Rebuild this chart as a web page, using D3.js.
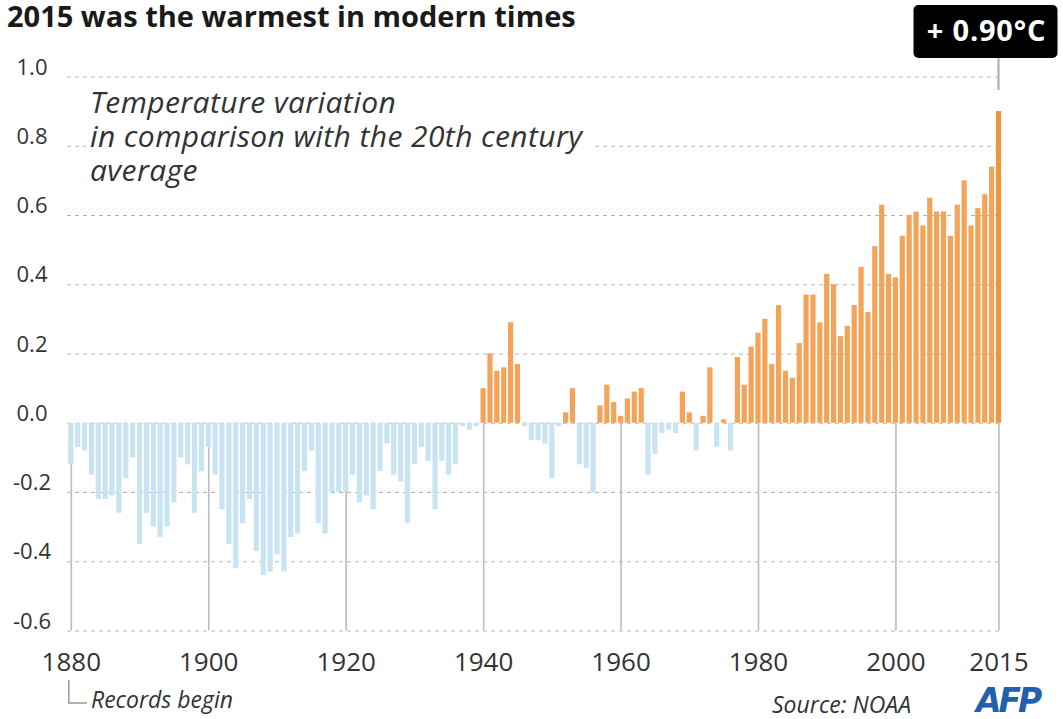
<!DOCTYPE html>
<html>
<head>
<meta charset="utf-8">
<script src="https://cdn.jsdelivr.net/npm/d3@7"></script>
<style>
  html, body { margin: 0; padding: 0; background: #fff; }
  svg { display: block; }
</style>
</head>
<body>
<svg id="chart" width="1063" height="719"></svg>
<script>
// Global land & ocean temperature anomaly vs. 20th century average (°C), NOAA
const years = d3.range(1880, 2016);
const anomalies = [
  -0.12, -0.07, -0.08, -0.15, -0.22, -0.22, -0.21, -0.26, -0.16, -0.10, // 1880s
  -0.35, -0.26, -0.30, -0.33, -0.30, -0.23, -0.10, -0.12, -0.26, -0.14, // 1890s
  -0.07, -0.15, -0.25, -0.35, -0.42, -0.29, -0.22, -0.37, -0.44, -0.43, // 1900s
  -0.38, -0.43, -0.33, -0.32, -0.14, -0.08, -0.29, -0.32, -0.20, -0.20, // 1910s
  -0.20, -0.15, -0.23, -0.21, -0.25, -0.14, -0.06, -0.15, -0.17, -0.29, // 1920s
  -0.12, -0.07, -0.11, -0.25, -0.11, -0.15, -0.12, -0.01, -0.02, -0.01, // 1930s
   0.10,  0.20,  0.15,  0.16,  0.29,  0.17, -0.01, -0.05, -0.05, -0.06, // 1940s
  -0.16, -0.01,  0.03,  0.10, -0.12, -0.13, -0.20,  0.05,  0.11,  0.06, // 1950s
   0.02,  0.07,  0.09,  0.10, -0.15, -0.09, -0.03, -0.02, -0.03,  0.09, // 1960s
   0.03, -0.08,  0.02,  0.16, -0.07,  0.01, -0.08,  0.19,  0.11,  0.22, // 1970s
   0.26,  0.30,  0.17,  0.34,  0.15,  0.13,  0.23,  0.37,  0.37,  0.29, // 1980s
   0.43,  0.40,  0.25,  0.28,  0.34,  0.45,  0.32,  0.51,  0.63,  0.43, // 1990s
   0.42,  0.54,  0.60,  0.61,  0.57,  0.65,  0.61,  0.61,  0.54,  0.63, // 2000s
   0.70,  0.57,  0.62,  0.66,  0.74,  0.90                              // 2010s
];
const yTicks = [-0.6, -0.4, -0.2, 0.0, 0.2, 0.4, 0.6, 0.8, 1.0];
const xTicks = [1880, 1900, 1920, 1940, 1960, 1980, 2000, 2015];
const titleText = "2015 was the warmest in modern times";
const noteLines = ["Temperature variation", "in comparison with the 20th century", "average"];

const data = years.map((yr, i) => ({ year: yr, value: anomalies[i] }));
const latest = data[data.length - 1];

const svg = d3.select("#chart");
const FONT = "'Open Sans', 'Noto Sans', sans-serif";

const x = d3.scaleLinear().domain([1880, 2015]).range([70.8, 998.5]);
const y = d3.scaleLinear().domain([-0.6, 1.0]).range([630.5, 76.5]);
const gridLeft = 67, gridRight = 1000;
const barW = 5.2;

// Title
svg.append("text")
  .attr("x", 7).attr("y", 27)
  .attr("font-family", FONT).attr("font-weight", 700).attr("font-size", 29)
  .attr("fill", "#1a1a1a")
  .text(titleText);

// Horizontal dashed gridlines with value labels
const yAxis = d3.axisLeft(y)
  .tickValues(yTicks)
  .tickSizeInner(-(gridRight - gridLeft))
  .tickSizeOuter(0)
  .tickFormat(d => d.toFixed(1));
const gy = svg.append("g")
  .attr("transform", `translate(${gridLeft},0)`)
  .call(yAxis);
gy.select(".domain").remove();
gy.selectAll(".tick line")
  .attr("stroke", "#b5b5b5").attr("stroke-width", 1)
  .attr("stroke-dasharray", "4,4");
gy.selectAll(".tick text")
  .attr("x", 32 - gridLeft).attr("dy", -2.5)
  .attr("text-anchor", "middle")
  .attr("font-family", FONT).attr("font-size", 22)
  .attr("fill", "#333");

// Annotation text (white backing hides the grid behind it)
const note = svg.append("g");
note.append("rect")
  .attr("x", 86).attr("y", 86).attr("width", 508).attr("height", 104)
  .attr("fill", "#fff");
note.selectAll("text").data(noteLines).join("text")
  .attr("x", 90).attr("y", (d, i) => 113 + i * 34)
  .attr("font-family", FONT).attr("font-style", "italic").attr("font-size", 30)
  .attr("letter-spacing", 0.4)
  .attr("fill", "#333")
  .text(d => d);

// Year axis: labels plus solid vertical lines from zero down to the bottom gridline
const xAxis = d3.axisBottom(x)
  .tickValues(xTicks)
  .tickSizeInner(-(y(-0.6) - y(0)))
  .tickSizeOuter(0)
  .tickFormat(d3.format("d"));
const gx = svg.append("g")
  .attr("transform", `translate(0,${y(-0.6)})`)
  .call(xAxis);
gx.select(".domain").remove();
gx.selectAll(".tick line")
  .attr("stroke", "#bdbdbd").attr("stroke-width", 1.6);
gx.selectAll(".tick text")
  .attr("y", 671 - y(-0.6)).attr("dy", 0)
  .attr("font-family", FONT).attr("font-size", 26)
  .attr("fill", "#333");

// Bars
svg.append("g").selectAll("rect").data(data).join("rect")
  .attr("x", d => x(d.year) - barW / 2)
  .attr("width", barW)
  .attr("y", d => y(Math.max(0, d.value)))
  .attr("height", d => Math.abs(y(d.value) - y(0)))
  .attr("fill", d => d.year === latest.year ? "#ec9640" : (d.value >= 0 ? "#f3a459" : "#c8e4f3"));

// Callout for the latest year
const cx = x(latest.year);
svg.append("line")
  .attr("x1", cx).attr("x2", cx)
  .attr("y1", 57).attr("y2", 90)
  .attr("stroke", "#aaa").attr("stroke-width", 2);
svg.append("rect")
  .attr("x", cx - 85).attr("y", 5).attr("width", 144).attr("height", 53)
  .attr("rx", 5).attr("fill", "#000");
svg.append("text")
  .attr("x", cx - 12).attr("y", 41)
  .attr("text-anchor", "middle")
  .attr("font-family", FONT).attr("font-weight", 700).attr("font-size", 29)
  .attr("letter-spacing", 0.8)
  .attr("fill", "#fff")
  .text("+ " + latest.value.toFixed(2) + "°C");

// "Records begin" marker under 1880
const x0 = x(1880) - 2;
svg.append("path")
  .attr("d", `M${x0},680 V703 H87`)
  .attr("fill", "none").attr("stroke", "#999").attr("stroke-width", 1.5);
svg.append("text")
  .attr("x", 91).attr("y", 708)
  .attr("font-family", FONT).attr("font-style", "italic").attr("font-size", 23)
  .attr("fill", "#333")
  .text("Records begin");

// Source and agency mark
svg.append("text")
  .attr("x", 772).attr("y", 713)
  .attr("font-family", FONT).attr("font-style", "italic").attr("font-size", 23)
  .attr("fill", "#333")
  .text("Source: NOAA");
svg.append("text")
  .attr("x", 976).attr("y", 712)
  .attr("font-family", "'DejaVu Sans', sans-serif").attr("font-style", "italic").attr("font-weight", 700)
  .attr("font-size", 33).attr("letter-spacing", -3)
  .attr("fill", "#2160b0")
  .text("AFP");
</script>
</body>
</html>
